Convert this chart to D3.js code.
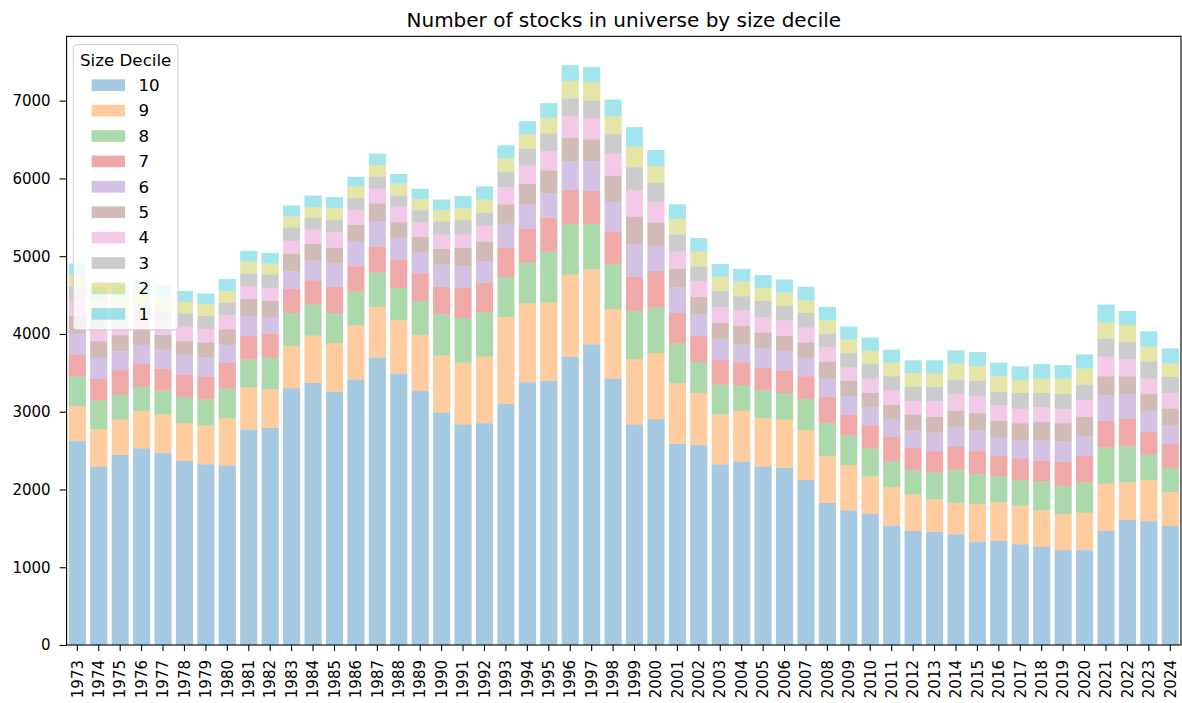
<!DOCTYPE html>
<html>
<head>
<meta charset="utf-8">
<script src="https://cdn.jsdelivr.net/npm/d3@7"></script>
<style>
  html, body { margin: 0; padding: 0; background: #fff; }
  svg { display: block; font-family: "DejaVu Sans", sans-serif; }
</style>
</head>
<body>
<svg id="chart" width="1182" height="703"></svg>
<script>
// Years on the x axis
const years = d3.range(1973, 2025).map(String);

// Stocks per size decile each year (decile 10 = largest group, drawn at the bottom)
const decile10 = [2621,2294,2447,2529,2468,2371,2324,2309,2770,2790,3302,3369,3256,3415,3697,3492,3272,2990,2836,2852,3098,3379,3395,3707,3866,3425,2836,2903,2586,2570,2324,2355,2294,2278,2120,1828,1731,1684,1531,1469,1454,1423,1326,1341,1295,1265,1219,1219,1469,1608,1592,1531];
const decile9  = [446,481,451,482,496,481,497,604,543,497,543,609,625,696,650,686,716,732,794,855,1121,1014,1008,1055,962,891,840,850,783,671,640,656,624,620,640,604,583,487,497,466,420,405,486,497,497,466,465,481,605,486,528,435];
const decile8  = [384,369,322,307,308,338,338,384,358,405,425,400,389,436,445,415,436,533,574,573,512,522,656,650,584,584,620,589,507,399,384,322,354,343,404,425,379,358,327,313,343,420,390,333,328,373,359,389,466,461,327,312];
const decile7  = [287,281,313,297,281,286,292,333,307,307,312,312,338,322,333,363,358,353,394,374,374,440,435,440,430,420,440,466,394,333,318,302,297,282,292,333,271,297,328,292,276,307,291,261,281,267,312,343,343,358,297,308];
const decile6  = [266,267,246,245,246,246,251,230,256,220,226,256,297,318,323,282,266,282,271,282,312,308,312,369,379,379,415,327,328,282,261,231,251,261,236,235,231,236,215,220,236,251,267,236,231,261,261,251,327,313,267,235];
const decile5  = [230,215,204,210,189,185,189,200,215,205,225,210,205,215,230,199,200,204,241,251,251,266,297,302,281,337,358,297,240,220,215,235,199,189,199,220,205,179,189,204,205,205,220,215,220,235,236,251,246,230,215,220];
const decile4  = [195,178,164,164,159,189,169,184,169,169,164,184,199,189,190,200,189,185,169,204,220,235,246,276,267,282,343,267,221,200,205,200,200,200,190,185,169,184,185,169,199,215,215,199,184,190,184,215,251,220,199,200];
const decile3  = [179,180,154,144,154,169,174,159,159,174,174,154,154,154,153,143,154,169,184,169,200,216,230,231,235,251,292,245,220,194,205,184,205,189,189,174,184,195,184,185,185,189,200,174,205,184,190,199,235,220,220,205];
const decile2  = [154,175,169,167,169,148,154,149,154,138,138,138,154,153,154,154,143,143,154,169,169,184,200,225,231,230,266,215,199,190,184,190,169,169,164,174,174,164,174,179,174,205,189,200,169,184,199,205,205,215,190,174];
const decile1  = [143,165,154,155,154,139,132,153,138,138,143,148,143,123,143,123,134,138,158,169,169,174,189,200,199,215,251,205,190,174,164,163,164,169,174,169,169,169,169,164,169,169,184,174,174,190,174,185,231,185,200,194];

// Legend / stacking order, bottom to top
const deciles = ["10", "9", "8", "7", "6", "5", "4", "3", "2", "1"];
const seriesValues = [decile10, decile9, decile8, decile7, decile6, decile5, decile4, decile3, decile2, decile1];
const palette = d3.schemeCategory10;

const titleText = "Number of stocks in universe by size decile";
const legendTitle = "Size Decile";

// Build one row per year for d3.stack
const table = years.map((yr, i) => {
  const row = { year: yr };
  deciles.forEach((d, k) => { row[d] = seriesValues[k][i]; });
  return row;
});

const svg = d3.select("#chart");
const plot = { left: 66.6, right: 1181, top: 36.3, bottom: 645 };

const stacked = d3.stack().keys(deciles)(table);
const maxTotal = d3.max(table, r => d3.sum(deciles, d => r[d]));

const x = d3.scaleBand()
  .domain(years)
  .range([plot.left, plot.right])
  .paddingInner(0.2)
  .paddingOuter(0.1);

const y = d3.scaleLinear()
  .domain([0, maxTotal * 1.05])
  .range([plot.bottom, plot.top]);

const color = d3.scaleOrdinal().domain(deciles).range(palette);

// Stacked bars
svg.append("g")
  .selectAll("g")
  .data(stacked)
  .join("g")
    .attr("fill", d => color(d.key))
    .attr("fill-opacity", 0.4)
  .selectAll("rect")
  .data(d => d)
  .join("rect")
    .attr("x", d => x(d.data.year))
    .attr("width", x.bandwidth())
    .attr("y", d => y(d[1]))
    .attr("height", d => y(d[0]) - y(d[1]));

const tickFont = 15;

// Y axis
const yAxis = d3.axisLeft(y)
  .tickValues(d3.range(0, 7001, 1000))
  .tickFormat(d3.format("d"))
  .tickSize(7)
  .tickPadding(9);

const gy = svg.append("g")
  .attr("transform", `translate(${plot.left},0)`)
  .call(yAxis);
gy.select(".domain").remove();
gy.selectAll(".tick line").attr("stroke", "#000").attr("stroke-width", 1.1);
gy.selectAll(".tick text")
  .attr("fill", "#000")
  .style("font-family", "DejaVu Sans")
  .style("font-size", tickFont + "px");

// X axis with vertical year labels
const xAxis = d3.axisBottom(x).tickSize(6).tickPadding(10);
const gx = svg.append("g")
  .attr("transform", `translate(0,${plot.bottom})`)
  .call(xAxis);
gx.select(".domain").remove();
gx.selectAll(".tick line").attr("stroke", "#000").attr("stroke-width", 1.1);
gx.selectAll(".tick text")
  .attr("fill", "#000")
  .style("font-family", "DejaVu Sans")
  .style("font-size", tickFont + "px")
  .attr("transform", "rotate(-90)")
  .attr("text-anchor", "end")
  .attr("x", -15)
  .attr("y", 0)
  .attr("dy", "0.35em");

// Axes frame
svg.append("rect")
  .attr("x", plot.left)
  .attr("y", plot.top)
  .attr("width", plot.right - plot.left)
  .attr("height", plot.bottom - plot.top)
  .attr("fill", "none")
  .attr("stroke", "#000")
  .attr("stroke-width", 1.1);

// Title
svg.append("text")
  .attr("x", (plot.left + plot.right) / 2)
  .attr("y", 27)
  .attr("text-anchor", "middle")
  .style("font-size", "20px")
  .attr("fill", "#000")
  .text(titleText);

// Legend
const lf = 16.7;                    // legend font size
const legend = svg.append("g");
const frame = legend.append("rect");
const titleEl = legend.append("text")
  .style("font-size", lf + "px")
  .attr("fill", "#000")
  .attr("text-anchor", "middle")
  .text(legendTitle);
const titleW = titleEl.node().getComputedTextLength();

const lx = plot.left + 0.4 * lf;
const ly = plot.top + 0.5 * lf;
const pad = 0.4 * lf;
const handleW = 2 * lf, handleH = 0.7 * lf, textGap = 0.8 * lf;
const rowStep = 25.4;
const firstRowY = 85.2;

const items = legend.selectAll("g.item")
  .data(deciles)
  .join("g")
  .attr("class", "item");

const labels = items.append("text")
  .style("font-size", lf + "px")
  .attr("fill", "#000")
  .attr("dy", "0.35em")
  .text(d => d);
const labelW = d3.max(labels.nodes(), n => n.getComputedTextLength());
const entryW = handleW + textGap + labelW;
const innerW = Math.max(titleW, entryW);
const boxW = innerW + 2 * pad;
const entryX = lx + pad + (innerW - entryW) / 2;

titleEl.attr("x", lx + boxW / 2).attr("y", 60).attr("dy", "0.35em");

items.append("rect")
  .attr("x", entryX)
  .attr("y", (d, i) => firstRowY + i * rowStep - handleH / 2)
  .attr("width", handleW)
  .attr("height", handleH)
  .attr("fill", d => color(d))
  .attr("fill-opacity", 0.4);

labels
  .attr("x", entryX + handleW + textGap)
  .attr("y", (d, i) => firstRowY + i * rowStep);

const boxBottom = firstRowY + (deciles.length - 1) * rowStep + 16;
frame
  .attr("x", lx)
  .attr("y", ly)
  .attr("width", boxW)
  .attr("height", boxBottom - ly)
  .attr("rx", 3)
  .attr("fill", "#fff")
  .attr("fill-opacity", 0.8)
  .attr("stroke", "#cccccc")
  .attr("stroke-width", 1);
</script>
</body>
</html>
